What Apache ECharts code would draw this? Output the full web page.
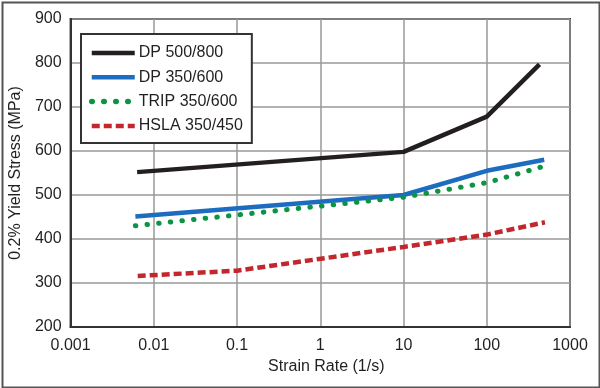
<!DOCTYPE html>
<html>
<head>
<meta charset="utf-8">
<script src="https://cdn.jsdelivr.net/npm/echarts@6/dist/echarts.min.js"></script>
<style>
html,body{margin:0;padding:0;background:#fff;}
#c{width:600px;height:388px;}
</style>
</head>
<body>
<div id="c"></div>
<script>
const seriesNames = ['DP 500/800', 'DP 350/600', 'TRIP 350/600', 'HSLA 350/450'];
const dp800X = [0.0063, 10, 100, 430];
const dp800Y = [552, 598, 678, 797];
const dp600X = [0.006, 10, 100, 490];
const dp600Y = [451, 500, 555, 580];
const tripX = [0.006, 10, 100, 480];
const tripY = [430, 495, 528, 565];
const hslaX = [0.0064, 0.1, 10, 100, 500];
const hslaY = [316, 328, 382, 410, 438];
const xTickLabels = ['0.001', '0.01', '0.1', '1', '10', '100', '1000'];
const yTickLabels = ['200', '300', '400', '500', '600', '700', '800', '900'];

const FONT = "'Liberation Sans', Arial, sans-serif";
const TXT = '#231f20';
function pairs(xs, ys) { return xs.map((x, i) => [x, ys[i]]); }

const chart = echarts.init(document.getElementById('c'), null, {renderer: 'canvas'});
chart.setOption({
  animation: false,
  backgroundColor: '#fff',
  textStyle: {fontFamily: FONT, color: TXT},
  grid: {left: 65, right: 30, top: 19, bottom: 61, show: true, borderColor: '#333', borderWidth: 2, containLabel: false},
  legend: {
    left: 81, top: 34, orient: 'vertical',
    backgroundColor: '#fff', borderColor: '#333', borderWidth: 2, borderRadius: 0,
    padding: [11, 9, 9, 8],
    itemWidth: 43, itemHeight: 14, itemGap: 8.3,
    itemStyle: {opacity: 0},
    lineStyle: {width: 4.5},
    textStyle: {fontFamily: FONT, fontSize: 16, color: TXT, padding: [0, 0, 0, -1]},
    data: [
      {name: seriesNames[0]},
      {name: seriesNames[1]},
      {name: seriesNames[2], lineStyle: {width: 5.5, cap: 'round', type: [0.5, 11.5]}},
      {name: seriesNames[3]}
    ]
  },
  xAxis: {
    type: 'log', logBase: 10, min: 0.001, max: 1000,
    name: 'Strain Rate (1/s)', nameLocation: 'middle', nameGap: 32,
    nameTextStyle: {fontFamily: FONT, fontSize: 16, color: TXT, padding: [0, 0, 0, 12]},
    axisLine: {show: true, lineStyle: {color: '#333', width: 2}},
    axisTick: {show: false},
    minorTick: {show: false},
    splitLine: {show: true, lineStyle: {color: '#999', width: 1.5}},
    axisLabel: {
      fontFamily: FONT, fontSize: 16, color: TXT, margin: 11,
      formatter: v => xTickLabels[Math.round(Math.log10(v)) + 3]
    }
  },
  yAxis: {
    type: 'value', min: 200, max: 900, interval: 100,
    name: '0.2% Yield Stress (MPa)', nameLocation: 'middle', nameGap: 37,
    nameTextStyle: {fontFamily: FONT, fontSize: 16, color: TXT},
    axisLine: {show: true, lineStyle: {color: '#333', width: 2}},
    axisTick: {show: false},
    splitLine: {show: true, lineStyle: {color: '#999', width: 1.5}},
    axisLabel: {
      fontFamily: FONT, fontSize: 16, color: TXT, margin: 9,
      formatter: v => yTickLabels[Math.round((v - 200) / 100)]
    }
  },
  series: [
    {name: seriesNames[0], type: 'line', symbol: 'none', data: pairs(dp800X, dp800Y),
     lineStyle: {color: '#231f20', width: 4.5}, itemStyle: {color: '#231f20'}},
    {name: seriesNames[1], type: 'line', symbol: 'none', data: pairs(dp600X, dp600Y),
     lineStyle: {color: '#1c6dbf', width: 4.5}, itemStyle: {color: '#1c6dbf'}},
    {name: seriesNames[2], type: 'line', symbol: 'none', data: pairs(tripX, tripY),
     lineStyle: {color: '#0b9444', width: 5, type: [0.5, 11.2], cap: 'round'}, itemStyle: {color: '#0b9444'}},
    {name: seriesNames[3], type: 'line', symbol: 'none', data: pairs(hslaX, hslaY),
     lineStyle: {color: '#c1272d', width: 4.5, type: [8, 4]}, itemStyle: {color: '#c1272d'}}
  ],
  graphic: [{
    type: 'rect', left: 0, top: 0, z: 100, silent: true,
    shape: {x: 1, y: 1, width: 597, height: 385},
    style: {fill: 'none', stroke: '#555', lineWidth: 2}
  }]
});
</script>
</body>
</html>
